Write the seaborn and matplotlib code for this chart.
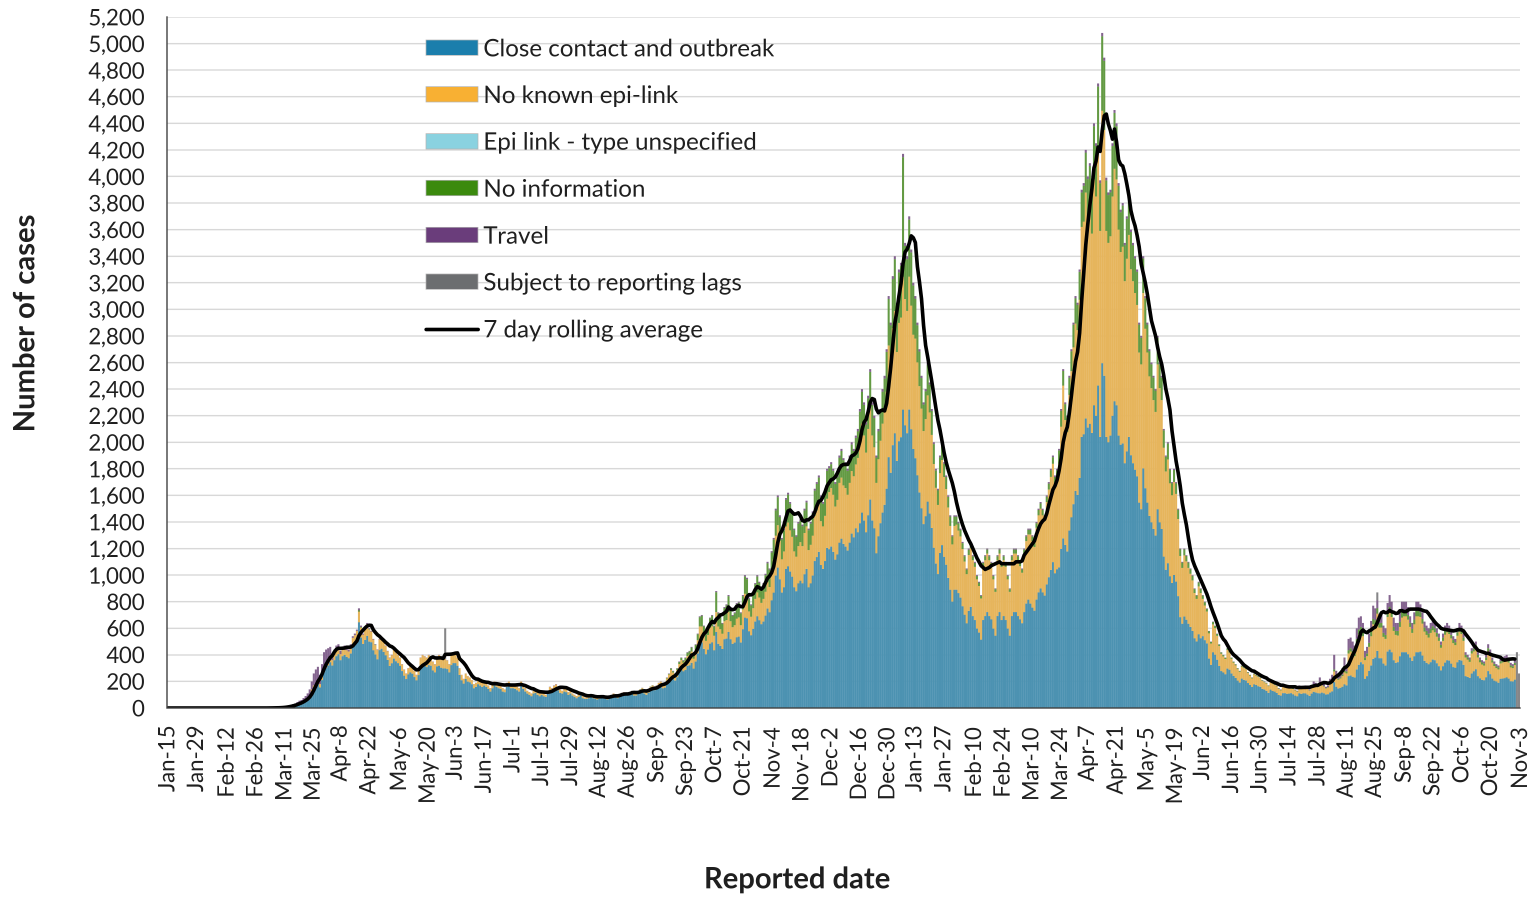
import io
import numpy as np
import pandas as pd
import matplotlib
matplotlib.use("Agg")
import matplotlib.pyplot as plt
import matplotlib.colors as mcolors
import seaborn as sns
from matplotlib.patches import Patch
from matplotlib.lines import Line2D
from matplotlib.ticker import FuncFormatter

# one bar per reported day, Jan-15-2020 .. Nov-3-2021
dates = pd.date_range("2020-01-15", "2021-11-03", freq="D")

# daily counts, one row = two weeks
close = [
    0, 0, 0, 0, 0, 0, 0, 0, 0, 0, 0, 0, 0, 0,
    0, 0, 0, 0, 0, 0, 0, 0, 0, 0, 0, 0, 0, 0,
    0, 0, 0, 0, 0, 0, 0, 0, 0, 0, 0, 0, 0, 0,
    0, 0, 0, 0, 0, 0, 0, 0, 1, 0, 1, 1, 1, 2,
    3, 5, 5, 8, 10, 12, 15, 20, 25, 28, 35, 45, 55, 75,
    120, 145, 155, 180, 155, 210, 270, 300, 320, 345, 320, 360, 390, 405,
    360, 390, 400, 385, 375, 410, 468, 478, 510, 645, 530, 482, 512, 542,
    500, 495, 435, 403, 366, 436, 446, 422, 397, 362, 317, 337, 372, 352,
    338, 318, 278, 243, 218, 253, 268, 258, 233, 208, 248, 318, 333, 328,
    308, 323, 318, 283, 268, 313, 318, 303, 298, 298, 293, 268, 323, 338,
    338, 318, 249, 209, 184, 219, 199, 194, 179, 149, 159, 179, 169, 159,
    169, 159, 144, 124, 149, 169, 159, 149, 144, 124, 119, 159, 169, 149,
    149, 144, 134, 124, 169, 144, 124, 109, 99, 89, 109, 114, 99, 89,
    99, 89, 84, 109, 133, 123, 137, 147, 133, 113, 109, 124, 119, 99,
    109, 94, 84, 74, 84, 94, 74, 69, 69, 74, 84, 74, 69, 64,
    69, 74, 74, 69, 64, 74, 84, 94, 79, 74, 84, 94, 99, 94,
    94, 99, 109, 94, 94, 104, 114, 124, 109, 99, 114, 134, 139, 134,
    138, 153, 163, 148, 153, 182, 207, 232, 217, 207, 232, 266, 291, 276,
    286, 316, 321, 340, 296, 350, 410, 494, 494, 445, 405, 440, 484, 494,
    434, 572, 483, 468, 444, 518, 522, 572, 518, 483, 493, 532, 537, 493,
    592, 680, 675, 577, 547, 596, 651, 690, 661, 631, 651, 695, 749, 720,
    810, 868, 997, 1056, 968, 869, 908, 1046, 1066, 1027, 988, 909, 879, 938,
    958, 938, 1007, 1047, 908, 938, 997, 1106, 1136, 1175, 1076, 1047, 1106, 1205,
    1195, 1215, 1175, 1116, 1156, 1244, 1274, 1235, 1215, 1185, 1244, 1313, 1284, 1353,
    1322, 1391, 1470, 1411, 1322, 1450, 1569, 1411, 1352, 1164, 1292, 1391, 1470, 1529,
    1650, 1888, 1770, 1978, 2067, 1859, 2008, 2038, 2245, 2127, 2068, 2246, 2098, 1949,
    1880, 1751, 1622, 1503, 1384, 1444, 1553, 1464, 1355, 1206, 1087, 1008, 1167, 1226,
    1138, 1078, 979, 890, 801, 890, 890, 865, 831, 766, 702, 637, 731, 761,
    692, 662, 598, 568, 514, 662, 692, 722, 692, 667, 598, 544, 692, 722,
    662, 692, 662, 598, 544, 692, 722, 722, 692, 667, 638, 722, 786, 816,
    786, 756, 732, 816, 870, 900, 870, 846, 930, 984, 1039, 1098, 1014, 1044,
    1058, 1197, 1276, 1227, 1178, 1336, 1435, 1534, 1633, 1603, 1732, 2040, 2060, 2179,
    2110, 2139, 2070, 2278, 2199, 2427, 2040, 2595, 2500, 2040, 2000, 2050, 2199, 2308,
    2278, 2050, 1981, 1991, 1842, 1931, 2040, 1902, 1842, 1793, 1743, 1545, 1496, 1803,
    1654, 1545, 1446, 1397, 1347, 1298, 1496, 1397, 1347, 1139, 1040, 1090, 991, 941,
    1001, 951, 842, 684, 634, 689, 664, 634, 610, 580, 525, 501, 555, 525,
    541, 511, 486, 372, 325, 419, 401, 363, 316, 278, 268, 254, 297, 288,
    260, 241, 226, 207, 192, 221, 212, 207, 188, 173, 158, 178, 173, 163,
    159, 144, 139, 129, 114, 138, 128, 123, 113, 98, 93, 112, 112, 107,
    108, 112, 103, 93, 88, 111, 106, 111, 110, 101, 91, 109, 122, 117,
    112, 110, 116, 111, 102, 104, 117, 125, 195, 160, 147, 152, 160, 178,
    170, 240, 245, 235, 230, 290, 325, 345, 330, 220, 240, 280, 320, 370,
    380, 430, 375, 375, 335, 320, 425, 440, 420, 360, 340, 345, 390, 420,
    420, 420, 405, 380, 355, 390, 420, 420, 425, 395, 355, 340, 330, 345,
    365, 360, 337, 315, 283, 315, 342, 360, 357, 334, 308, 303, 344, 362,
    357, 325, 240, 234, 227, 260, 276, 291, 240, 224, 212, 209, 231, 278,
    255, 222, 206, 200, 190, 220, 222, 225, 231, 222, 201, 200, 213, 0, 0,
]

nolink = [
    0, 0, 0, 0, 0, 0, 0, 0, 0, 0, 0, 0, 0, 0,
    0, 0, 0, 0, 0, 0, 0, 0, 0, 0, 0, 0, 0, 0,
    0, 0, 0, 0, 0, 0, 0, 0, 0, 0, 0, 0, 0, 0,
    0, 0, 0, 0, 0, 0, 0, 0, 0, 0, 0, 0, 0, 0,
    1, 1, 2, 2, 3, 4, 4, 5, 6, 7, 10, 10, 15, 20,
    20, 25, 25, 30, 25, 30, 40, 40, 40, 45, 40, 40, 45, 45,
    45, 50, 50, 50, 50, 55, 60, 70, 70, 80, 75, 70, 80, 90,
    90, 80, 80, 70, 70, 80, 80, 75, 70, 65, 60, 60, 65, 65,
    60, 60, 50, 45, 40, 45, 50, 50, 45, 40, 50, 60, 65, 60,
    70, 75, 70, 65, 60, 75, 80, 75, 70, 70, 65, 60, 75, 80,
    70, 60, 50, 40, 35, 40, 40, 35, 30, 30, 30, 30, 30, 30,
    30, 30, 25, 25, 30, 30, 30, 30, 25, 25, 20, 30, 30, 30,
    30, 25, 25, 25, 30, 25, 25, 20, 20, 20, 20, 25, 20, 20,
    20, 20, 15, 20, 25, 25, 30, 30, 25, 25, 20, 25, 20, 20,
    20, 15, 15, 15, 15, 15, 15, 10, 10, 15, 15, 10, 10, 10,
    10, 10, 15, 10, 10, 15, 15, 15, 15, 15, 15, 20, 20, 15,
    15, 20, 20, 20, 15, 20, 25, 25, 20, 20, 25, 25, 30, 25,
    30, 35, 35, 30, 35, 40, 45, 55, 50, 45, 55, 65, 70, 65,
    70, 75, 80, 85, 75, 90, 100, 120, 120, 110, 100, 110, 120, 120,
    110, 150, 130, 125, 115, 135, 140, 150, 135, 125, 130, 140, 145, 130,
    150, 180, 175, 150, 140, 155, 170, 180, 170, 160, 170, 180, 200, 190,
    230, 250, 300, 320, 290, 250, 270, 320, 330, 310, 300, 270, 260, 280,
    290, 280, 310, 320, 280, 290, 300, 340, 350, 360, 330, 320, 340, 370,
    430, 440, 430, 400, 410, 450, 460, 440, 440, 420, 450, 470, 460, 480,
    560, 620, 670, 640, 600, 650, 710, 640, 610, 530, 580, 620, 670, 700,
    730, 840, 780, 880, 920, 820, 890, 900, 1000, 950, 920, 1000, 930, 860,
    900, 850, 800, 750, 700, 730, 800, 760, 700, 630, 570, 520, 600, 640,
    600, 570, 530, 480, 430, 480, 490, 470, 460, 430, 400, 370, 420, 440,
    420, 400, 370, 350, 310, 400, 420, 440, 420, 400, 370, 330, 420, 440,
    400, 420, 400, 370, 330, 420, 440, 440, 420, 400, 380, 440, 470, 490,
    520, 500, 480, 540, 580, 600, 580, 560, 620, 660, 700, 740, 680, 700,
    780, 920, 1150, 940, 900, 1020, 1100, 1180, 1260, 1240, 1340, 1580, 1600, 1700,
    1550, 1600, 1500, 1700, 1650, 1800, 1550, 1900, 1850, 1550, 1500, 1500, 1650, 1750,
    1700, 1550, 1450, 1480, 1370, 1450, 1520, 1400, 1370, 1330, 1290, 1130, 1090, 1320,
    1200, 1130, 1050, 1010, 970, 930, 1090, 1010, 970, 820, 740, 780, 700, 660,
    700, 660, 580, 460, 420, 460, 440, 420, 400, 380, 340, 320, 360, 340,
    280, 260, 240, 190, 160, 210, 200, 180, 150, 130, 120, 115, 140, 130,
    110, 100, 95, 85, 80, 90, 90, 85, 75, 70, 65, 75, 70, 70,
    65, 60, 55, 55, 50, 55, 55, 50, 50, 45, 40, 50, 45, 45,
    45, 50, 40, 40, 35, 50, 45, 45, 50, 45, 40, 50, 55, 55,
    45, 55, 55, 50, 45, 50, 60, 65, 80, 70, 65, 70, 80, 90,
    90, 170, 180, 170, 160, 200, 230, 230, 210, 140, 150, 180, 220, 260,
    240, 280, 230, 230, 200, 200, 260, 280, 265, 220, 210, 200, 220, 260,
    270, 270, 260, 230, 210, 240, 270, 270, 260, 240, 220, 210, 200, 220,
    220, 210, 200, 190, 170, 190, 210, 210, 200, 190, 180, 170, 200, 210,
    200, 180, 140, 130, 120, 150, 150, 160, 140, 120, 115, 110, 130, 150,
    140, 120, 110, 100, 100, 115, 120, 125, 125, 120, 105, 100, 110, 0, 0,
]

noinfo = [
    0, 0, 0, 0, 0, 0, 0, 0, 0, 0, 0, 0, 0, 0,
    0, 0, 0, 0, 0, 0, 0, 0, 0, 0, 0, 0, 0, 0,
    0, 0, 0, 0, 0, 0, 0, 0, 0, 0, 0, 0, 0, 0,
    0, 0, 0, 0, 0, 0, 0, 0, 0, 0, 0, 0, 0, 0,
    0, 0, 0, 0, 0, 0, 0, 0, 0, 0, 0, 0, 0, 0,
    0, 0, 0, 0, 0, 0, 0, 0, 0, 0, 0, 0, 0, 0,
    0, 0, 0, 0, 0, 0, 0, 0, 0, 10, 5, 0, 0, 0,
    4, 0, 0, 3, 0, 0, 0, 0, 0, 0, 0, 0, 0, 0,
    0, 0, 0, 0, 0, 0, 0, 0, 0, 0, 0, 0, 0, 0,
    0, 0, 0, 0, 0, 0, 0, 0, 0, 0, 0, 0, 0, 0,
    0, 0, 0, 0, 0, 0, 0, 0, 0, 0, 0, 0, 0, 0,
    0, 0, 0, 0, 0, 0, 0, 0, 0, 0, 0, 0, 0, 0,
    0, 0, 0, 0, 0, 0, 0, 0, 0, 0, 0, 0, 0, 0,
    0, 0, 0, 0, 0, 0, 0, 0, 0, 0, 0, 0, 0, 0,
    0, 0, 0, 0, 0, 0, 0, 0, 0, 0, 0, 0, 0, 0,
    0, 0, 0, 0, 0, 0, 0, 0, 0, 0, 0, 0, 0, 0,
    0, 0, 0, 0, 0, 0, 2, 2, 0, 0, 2, 2, 2, 2,
    0, 0, 0, 0, 0, 5, 5, 10, 10, 5, 10, 15, 15, 15,
    20, 25, 25, 30, 25, 35, 45, 70, 80, 60, 50, 55, 70, 80,
    70, 150, 100, 90, 75, 100, 110, 120, 100, 85, 90, 110, 110, 90,
    100, 130, 120, 95, 85, 100, 110, 120, 110, 100, 110, 125, 140, 130,
    130, 150, 190, 210, 180, 150, 160, 200, 210, 200, 180, 160, 150, 170,
    160, 150, 170, 180, 150, 160, 170, 190, 200, 200, 180, 170, 190, 210,
    180, 180, 180, 170, 170, 190, 200, 190, 180, 180, 190, 200, 190, 200,
    200, 220, 240, 230, 210, 230, 250, 230, 220, 190, 210, 220, 240, 250,
    300, 350, 330, 370, 390, 350, 380, 390, 900, 400, 390, 430, 400, 370,
    300, 280, 260, 230, 200, 210, 230, 210, 180, 150, 130, 110, 120, 120,
    100, 90, 80, 70, 60, 70, 60, 55, 50, 45, 40, 35, 40, 40,
    30, 30, 25, 25, 20, 30, 30, 30, 30, 25, 25, 20, 30, 30,
    30, 30, 30, 25, 20, 30, 30, 30, 30, 25, 25, 30, 35, 35,
    35, 35, 30, 35, 40, 40, 40, 35, 40, 45, 50, 50, 45, 45,
    100, 120, 110, 120, 110, 130, 150, 170, 190, 190, 210, 260, 270, 300,
    320, 340, 310, 400, 380, 450, 360, 560, 520, 380, 360, 330, 380, 420,
    400, 330, 300, 310, 270, 300, 320, 280, 270, 260, 250, 210, 200, 260,
    230, 210, 190, 180, 170, 160, 200, 180, 170, 130, 110, 120, 100, 90,
    90, 80, 70, 50, 40, 45, 40, 40, 35, 35, 30, 25, 30, 30,
    25, 25, 20, 15, 12, 18, 16, 14, 12, 10, 10, 9, 11, 10,
    8, 7, 7, 6, 6, 7, 6, 6, 5, 5, 5, 5, 5, 5,
    4, 4, 4, 4, 4, 4, 4, 4, 4, 4, 4, 4, 4, 4,
    3, 3, 3, 3, 3, 3, 3, 3, 3, 3, 3, 3, 3, 3,
    3, 5, 4, 4, 3, 4, 8, 10, 15, 10, 8, 8, 10, 12,
    15, 25, 25, 25, 20, 30, 35, 35, 30, 20, 20, 30, 35, 40,
    40, 40, 35, 35, 30, 30, 35, 40, 35, 30, 30, 35, 40, 40,
    40, 40, 35, 30, 30, 35, 40, 40, 35, 35, 30, 30, 30, 30,
    30, 30, 28, 25, 22, 25, 28, 30, 28, 26, 24, 22, 26, 28,
    28, 25, 20, 18, 17, 20, 22, 24, 20, 18, 17, 16, 19, 22,
    20, 18, 16, 15, 15, 17, 18, 20, 19, 18, 16, 15, 17, 0, 0,
]

travel = [
    0, 0, 0, 0, 0, 0, 0, 0, 0, 0, 0, 0, 0, 0,
    0, 0, 0, 0, 0, 0, 0, 0, 0, 0, 0, 0, 0, 0,
    0, 0, 0, 0, 0, 0, 0, 0, 0, 0, 0, 0, 0, 0,
    0, 0, 0, 0, 0, 1, 0, 1, 1, 1, 1, 2, 2, 3,
    4, 6, 8, 10, 12, 14, 16, 20, 24, 25, 30, 35, 40, 45,
    60, 90, 110, 100, 70, 90, 110, 100, 90, 70, 50, 40, 35, 30,
    25, 20, 20, 15, 15, 15, 12, 12, 10, 15, 10, 8, 8, 8,
    6, 5, 5, 4, 4, 4, 4, 3, 3, 3, 3, 3, 3, 3,
    2, 2, 2, 2, 2, 2, 2, 2, 2, 2, 2, 2, 2, 2,
    2, 2, 2, 2, 2, 2, 2, 2, 2, 2, 2, 2, 2, 2,
    2, 2, 1, 1, 1, 1, 1, 1, 1, 1, 1, 1, 1, 1,
    1, 1, 1, 1, 1, 1, 1, 1, 1, 1, 1, 1, 1, 1,
    1, 1, 1, 1, 1, 1, 1, 1, 1, 1, 1, 1, 1, 1,
    1, 1, 1, 1, 2, 2, 3, 3, 2, 2, 1, 1, 1, 1,
    1, 1, 1, 1, 1, 1, 1, 1, 1, 1, 1, 1, 1, 1,
    1, 1, 1, 1, 1, 1, 1, 1, 1, 1, 1, 1, 1, 1,
    1, 1, 1, 1, 1, 1, 1, 1, 1, 1, 1, 1, 1, 1,
    2, 2, 2, 2, 2, 3, 3, 3, 3, 3, 3, 4, 4, 4,
    4, 4, 4, 5, 4, 5, 5, 6, 6, 5, 5, 5, 6, 6,
    6, 8, 7, 7, 6, 7, 8, 8, 7, 7, 7, 8, 8, 7,
    8, 10, 10, 8, 8, 9, 9, 10, 9, 9, 9, 10, 11, 10,
    10, 12, 13, 14, 12, 11, 12, 14, 14, 13, 12, 11, 11, 12,
    12, 12, 13, 13, 12, 12, 13, 14, 14, 15, 14, 13, 14, 15,
    15, 15, 15, 14, 14, 16, 16, 15, 15, 15, 16, 17, 16, 17,
    18, 19, 20, 19, 18, 20, 21, 19, 18, 16, 18, 19, 20, 21,
    20, 22, 20, 22, 23, 21, 22, 22, 25, 23, 22, 24, 22, 21,
    20, 19, 18, 17, 16, 16, 17, 16, 15, 14, 13, 12, 13, 14,
    12, 12, 11, 10, 9, 10, 10, 10, 9, 9, 8, 8, 9, 9,
    8, 8, 7, 7, 6, 8, 8, 8, 8, 8, 7, 6, 8, 8,
    8, 8, 8, 7, 6, 8, 8, 8, 8, 8, 7, 8, 9, 9,
    9, 9, 8, 9, 10, 10, 10, 9, 10, 11, 11, 12, 11, 11,
    12, 13, 14, 13, 12, 14, 15, 16, 17, 17, 18, 20, 20, 21,
    20, 21, 20, 22, 21, 23, 21, 25, 24, 21, 20, 20, 21, 22,
    22, 20, 19, 19, 18, 19, 20, 18, 18, 17, 17, 15, 14, 17,
    16, 15, 14, 13, 13, 12, 14, 13, 13, 11, 10, 10, 9, 9,
    9, 9, 8, 6, 6, 6, 6, 6, 5, 5, 5, 4, 5, 5,
    4, 4, 4, 3, 3, 3, 3, 3, 2, 2, 2, 2, 2, 2,
    2, 2, 2, 2, 2, 2, 2, 2, 2, 2, 2, 2, 2, 2,
    2, 2, 2, 2, 2, 3, 3, 3, 3, 3, 3, 4, 4, 4,
    4, 5, 4, 4, 4, 6, 6, 6, 7, 6, 6, 8, 20, 15,
    10, 60, 25, 15, 10, 12, 35, 50, 110, 40, 30, 30, 50, 100,
    25, 85, 80, 70, 60, 80, 90, 80, 70, 50, 50, 70, 80, 100,
    90, 60, 70, 60, 55, 50, 70, 90, 80, 70, 60, 60, 70, 80,
    70, 70, 60, 50, 45, 55, 70, 70, 60, 50, 45, 40, 40, 45,
    45, 40, 35, 30, 25, 30, 40, 40, 35, 30, 28, 25, 30, 40,
    35, 30, 20, 18, 16, 20, 22, 25, 20, 18, 16, 15, 20, 30,
    25, 20, 18, 15, 15, 18, 20, 20, 25, 20, 18, 15, 20, 0, 0,
]

# only a few days carry these two categories
unspec_days = {}
lag_days = {"2020-05-29": 230, "2021-08-26": 60, "2021-11-02": 420, "2021-11-03": 260}

categories = ["Close contact and outbreak", "No known epi-link", "Epi link - type unspecified",
              "No information", "Travel", "Subject to reporting lags"]
colors = ["#1b7fac", "#f8b133", "#8ad3e0", "#3b8a0e", "#6a3d7b", "#6d6e71"]


def sparse(d):
    s = pd.Series(d, dtype=float)
    s.index = pd.to_datetime(s.index)
    return s.reindex(dates, fill_value=0)


def with_outline(c, share=0.3):
    # 2 px bars with grey outlines read as the fill mixed with the outline grey
    rgb = np.array(mcolors.to_rgb(c))
    grey = np.array(mcolors.to_rgb("#bfbfbf"))
    return tuple((1 - share) * rgb + share * grey)


for name, vals in [("close", close), ("nolink", nolink), ("noinfo", noinfo), ("travel", travel)]:
    assert len(vals) == len(dates), (name, len(vals))

wide = pd.DataFrame({
    categories[0]: close,
    categories[1]: nolink,
    categories[2]: sparse(unspec_days).values,
    categories[3]: noinfo,
    categories[4]: travel,
    categories[5]: sparse(lag_days).values,
}, index=dates)
wide["day"] = np.arange(len(dates))

total = wide[categories].sum(axis=1)
# 7 day rolling average, drawn up to the last day before the lagged ones
avg = total.rolling(7, min_periods=1).mean()
n_line = len(dates) - 2

long = wide.melt(id_vars="day", value_vars=categories, var_name="category", value_name="cases")
long = long[long["cases"] > 0]

sns.set_style("white")
plt.rcParams["font.family"] = ["Lato", "DejaVu Sans"]
text_color = "#1f1f1f"

fig = plt.figure(figsize=(15.31, 8.98), dpi=100)
ax = fig.add_axes([167 / 1531, 1 - 708 / 898, (1520 - 167) / 1531, (708 - 17) / 898])

bar_palette = {cat: with_outline(c) for cat, c in zip(categories, colors)}
sns.histplot(data=long, x="day", weights="cases", hue="category",
             hue_order=categories[::-1], palette=bar_palette,
             multiple="stack", discrete=True, shrink=1.0, alpha=1,
             linewidth=0, legend=False, ax=ax)
for p in ax.patches:
    p.set_snap(False)

sns.lineplot(x=wide["day"].values[:n_line], y=avg.values[:n_line], color="black",
             linewidth=2.6, ax=ax)

ax.set_xlim(-0.5, len(dates) - 0.5)
ax.set_ylim(0, 5200)
ax.set_yticks(np.arange(0, 5201, 200))
ax.yaxis.set_major_formatter(FuncFormatter(lambda v, p: f"{int(v):,}"))
xt = np.arange(0, len(dates), 14)
ax.set_xticks(xt)
ax.set_xticklabels([f"{d:%b}-{d.day}" for d in dates[xt]], rotation=90)
ax.set_xlabel("")
ax.set_ylabel("")

ax.set_axisbelow(True)
ax.yaxis.grid(True, color="#d9d9d9", linewidth=1)
ax.xaxis.grid(False)
sns.despine(ax=ax)
for s in ["left", "bottom"]:
    ax.spines[s].set_color("#404040")
    ax.spines[s].set_linewidth(1)
ax.tick_params(axis="x", direction="out", length=8, width=1, color="#404040",
               labelsize=16, labelcolor=text_color, pad=4)
ax.tick_params(axis="y", direction="out", length=5, width=1, color="#404040",
               labelsize=16, labelcolor=text_color, pad=11)

handles = [Patch(facecolor=c, edgecolor="#b3b3b3", linewidth=0.5) for c in colors]
handles.append(Line2D([0], [0], color="black", linewidth=2.6))
labels = categories + ["7 day rolling average"]
fig.legend(handles, labels, loc="upper left", bbox_to_anchor=(426 / 1531, 1 - 38.5 / 898),
           frameon=False, fontsize=17.4, labelcolor=text_color, handlelength=2.15,
           handleheight=0.6, handletextpad=0.22, labelspacing=1.04,
           borderpad=0, borderaxespad=0)

fig.text(797 / 1531, 1 - 880 / 898, "Reported date", ha="center", va="center",
         fontsize=21, fontweight="bold", color=text_color)
fig.text(26 / 1531, 1 - 323 / 898, "Number of cases", ha="center", va="center",
         rotation=90, fontsize=21, fontweight="bold", color=text_color)

# render at 3x and average down so the ~2 px bars blend evenly
buf = io.BytesIO()
fig.savefig(buf, format="png", dpi=300)
buf.seek(0)
img = plt.imread(buf)
h, w = img.shape[0] // 3, img.shape[1] // 3
small = img[:h * 3, :w * 3].reshape(h, 3, w, 3, -1).mean(axis=(1, 3))
plt.imsave("out.png", np.clip(small, 0, 1))
